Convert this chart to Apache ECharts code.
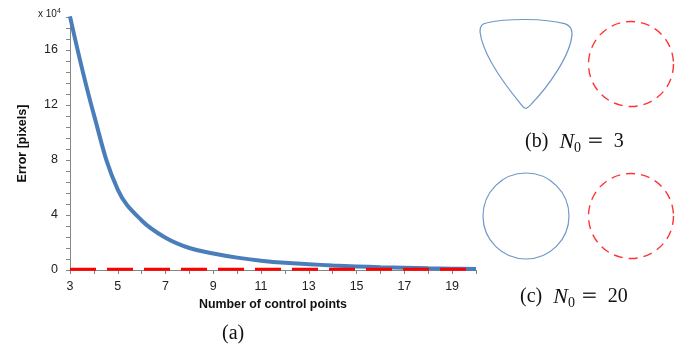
<!DOCTYPE html>
<html><head><meta charset="utf-8">
<script src="https://cdn.jsdelivr.net/npm/echarts@6/dist/echarts.min.js"></script>
<style>html,body{margin:0;padding:0;background:#fff}#c{width:683px;height:352px}</style>
</head><body><div id="c"></div>
<script>
// ---- data ----
const controlPoints = [3,4,5,6,7,8,9,10,11,12,13,14,15,16,17,18,19,20];
const errorBlue = [18.45,11.3,5.85,3.6,2.35,1.6,1.2,0.9,0.68,0.52,0.42,0.33,0.26,0.2,0.16,0.12,0.09,0.07]; // x 10^4 pixels
const errorRed  = [0.05,0.05,0.05,0.05,0.05,0.05,0.05,0.05,0.05,0.05,0.05,0.05,0.05,0.05,0.05,0.05,0.05,0.05];
const xTickLabels = ['3','5','7','9','11','13','15','17','19'];
const yTickLabels = ['0','4','8','12','16'];
// illustration panels: [column, row] (column 0 = result, 1 = reference; row 1 = N0=3, row 0 = N0=20)
const panelResultN3 = [[0,1]];
const panelRefN3 = [[1,1]];
const panelResultN20 = [[0,0]];
const panelRefN20 = [[1,0]];

const BLUE = '#4a7ebb';
const RED = '#ff0000';
const AXIS = '#868686';
const triPath = 'path://M0 15 C0 8 2 6 8 5 C30 0 70 0 92 6 C98 8 100 11 100 17 C99 40 75 75 55 96 Q52 99 50 100 Q47 99 45 96 C28 75 3 42 0 15 Z';

function capRich() {
  const base = {color: '#111', fontWeight: 'normal', lineHeight: 26};
  return {
    p: Object.assign({}, base, {fontFamily: 'Liberation Serif', fontSize: 20}),
    g: Object.assign({}, base, {fontSize: 20}),
    n: Object.assign({}, base, {fontFamily: 'Liberation Serif', fontStyle: 'italic', fontSize: 22}),
    s: Object.assign({}, base, {fontFamily: 'Liberation Serif', fontSize: 14, lineHeight: 16, verticalAlign: 'bottom'}),
    e: Object.assign({}, base, {fontFamily: 'DejaVu Serif', fontSize: 20, color: '#333', padding: [0, 10, 0, 6]}),
    v: Object.assign({}, base, {fontFamily: 'Liberation Serif', fontSize: 20})
  };
}

const chart = echarts.init(document.getElementById('c'));
chart.setOption({
  animation: false,
  backgroundColor: '#fff',
  title: [
    {text: '{a|x 10}{b|4}', left: 38, top: 8, padding: 0,
     textStyle: {fontWeight: 'normal', rich: {a: {fontFamily: 'Liberation Sans', fontWeight: 'normal', fontSize: 10, color: '#222', lineHeight: 12},
                         b: {fontFamily: 'Liberation Sans', fontWeight: 'normal', fontSize: 7, color: '#222', verticalAlign: 'top', lineHeight: 8}}}},
    {text: '{p|(a)}', left: 222, top: 321, padding: 0, textStyle: {fontWeight: 'normal', rich: capRich()}},
    {text: '{p|(b)}{g|  }{n|N}{s|0}{e|=}{v|3}', left: 525, top: 129, padding: 0, textStyle: {fontWeight: 'normal', rich: capRich()}},
    {text: '{p|(c)}{g|  }{n|N}{s|0}{e|=}{v|20}', left: 520, top: 284, padding: 0, textStyle: {fontWeight: 'normal', rich: capRich()}}
  ],
  grid: [
    {left: 70, right: 207, top: 17, bottom: 82},
    {left: 526, width: 105, top: 64, height: 152}
  ],
  xAxis: [
    {type: 'value', min: 3, max: 20, interval: 1,
     name: 'Number of control points', nameLocation: 'middle', nameGap: 29,
     nameTextStyle: {fontFamily: 'Liberation Sans', fontWeight: 'bold', fontSize: 12.4, color: '#111'},
     axisLine: {lineStyle: {color: AXIS, width: 1}},
     axisTick: {show: true, length: 4, lineStyle: {color: AXIS}},
     splitLine: {show: false},
     axisLabel: {margin: 10, fontFamily: 'Liberation Sans', fontSize: 12.5, color: '#222',
       formatter: v => xTickLabels.includes(String(v)) ? String(v) : ''}},
    {type: 'value', min: 0, max: 1, gridIndex: 1, show: false}
  ],
  yAxis: [
    {type: 'value', min: 0, max: 18.4, interval: 0.8,
     name: 'Error [pixels]', nameLocation: 'middle', nameGap: 41, nameRotate: 90,
     nameTextStyle: {fontFamily: 'Liberation Sans', fontWeight: 'bold', fontSize: 12.5, color: '#111'},
     axisLine: {show: true, lineStyle: {color: AXIS, width: 1}},
     axisTick: {show: true, length: 4, lineStyle: {color: AXIS}},
     splitLine: {show: false},
     axisLabel: {margin: 12, fontFamily: 'Liberation Sans', fontSize: 12.5, color: '#222', showMaxLabel: true,
       formatter: v => { const s = String(Math.round(v * 100) / 100); return yTickLabels.includes(s) ? s : ''; }}},
    {type: 'value', min: 0, max: 1, gridIndex: 1, show: false}
  ],
  series: [
    {type: 'line', name: 'blue', data: controlPoints.map((x, i) => [x, errorBlue[i]]),
     showSymbol: false, smooth: 0.4, lineStyle: {color: BLUE, width: 4}, z: 3},
    {type: 'line', name: 'red', data: controlPoints.map((x, i) => [x, errorRed[i]]),
     showSymbol: false, lineStyle: {color: RED, width: 3, type: [26, 11]}, z: 4},
    {type: 'scatter', xAxisIndex: 1, yAxisIndex: 1, data: panelResultN3, clip: false, silent: true,
     symbol: triPath, symbolSize: [92, 89],
     itemStyle: {color: 'rgba(0,0,0,0)', borderColor: BLUE, borderWidth: 1.2}},
    {type: 'scatter', xAxisIndex: 1, yAxisIndex: 1, data: panelRefN3, clip: false, silent: true,
     symbol: 'circle', symbolSize: 85,
     itemStyle: {color: 'rgba(0,0,0,0)', borderColor: RED, borderWidth: 1.4, borderType: [9, 6]}},
    {type: 'scatter', xAxisIndex: 1, yAxisIndex: 1, data: panelResultN20, clip: false, silent: true,
     symbol: 'circle', symbolSize: 86,
     itemStyle: {color: 'rgba(0,0,0,0)', borderColor: BLUE, borderWidth: 1.2}},
    {type: 'scatter', xAxisIndex: 1, yAxisIndex: 1, data: panelRefN20, clip: false, silent: true,
     symbol: 'circle', symbolSize: 85,
     itemStyle: {color: 'rgba(0,0,0,0)', borderColor: RED, borderWidth: 1.4, borderType: [9, 6]}}
  ]
});
</script>
</body></html>
